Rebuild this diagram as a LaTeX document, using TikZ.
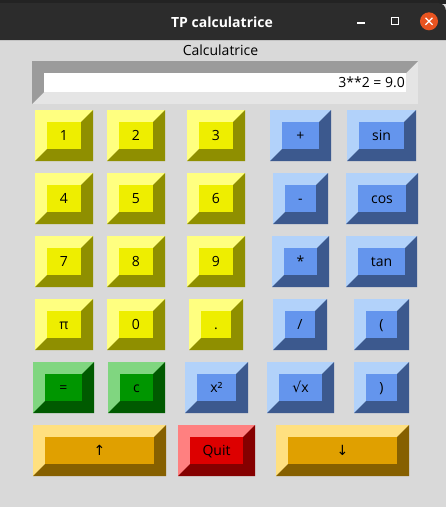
\documentclass[tikz,border=0pt]{standalone}
\usepackage{fontspec}
\setmainfont{Open Sans}
\newfontfamily\symfont{DejaVu Sans}
\usetikzlibrary{fit}
\definecolor{window}{RGB}{217,217,217}
\definecolor{titlebar}{RGB}{44,44,44}
\definecolor{closebtn}{RGB}{233,84,32}
\definecolor{entrylight}{RGB}{229,229,229}
\definecolor{entrydark}{RGB}{155,155,155}
\definecolor{num}{RGB}{238,238,0}
\definecolor{numlight}{RGB}{255,255,128}
\definecolor{numdark}{RGB}{143,143,0}
\definecolor{op}{RGB}{100,149,237}
\definecolor{oplight}{RGB}{178,210,250}
\definecolor{opdark}{RGB}{60,89,142}
\definecolor{ok}{RGB}{0,150,0}
\definecolor{oklight}{RGB}{128,214,128}
\definecolor{okdark}{RGB}{0,90,0}
\definecolor{quit}{RGB}{221,0,0}
\definecolor{quitlight}{RGB}{255,128,128}
\definecolor{quitdark}{RGB}{133,0,0}
\definecolor{nav}{RGB}{224,160,0}
\definecolor{navlight}{RGB}{255,224,128}
\definecolor{navdark}{RGB}{134,96,0}

% raised key: name, left, top, right, bottom, colour, label
\newcommand{\calckey}[7]{%
  \fill[#6light] (#2,#3) rectangle (#4,#5);
  \fill[#6dark] (#2,#5) -- (#4,#5) -- (#4,#3) -- ([shift={(-12,12)}]#4,#3)
    -- ([shift={(-12,-12)}]#4,#5) -- ([shift={(12,-12)}]#2,#5) -- cycle;
  \node[keyface, fill=#6, fit={([shift={(12,12)}]#2,#3) ([shift={(-12,-12)}]#4,#5)}] (#1-face) {};
  \node[keylabel] (#1) at (#1-face.center) {#7};
}

\begin{document}
\begin{tikzpicture}[
    x=1pt, y=-1pt,
    font=\fontsize{14}{17}\selectfont,
    keyface/.style={rectangle, inner sep=0pt, draw=none},
    keylabel/.style={inner sep=0pt, text=black, text height=10pt, text depth=0pt},
    tbicon/.style={white, line width=1.3pt}
]
    \useasboundingbox (0,0) rectangle (446,507);
    \fill[window] (0,0) rectangle (446,507);

    % Title bar
    \fill[titlebar!80!black] (0,0) rectangle (446,4);
    \fill[titlebar] (0,40) -- (0,3) [rounded corners=8pt] -- (446,3) [sharp corners] -- (446,40) -- cycle;
    \node[text=white, font=\fontsize{14}{17}\selectfont\bfseries] (title) at (222,22) {TP calculatrice};
    \draw[tbicon] (357,23) -- (365,23);
    \draw[tbicon] (391.5,17.5) rectangle (398.5,24.5);
    \fill[closebtn] (429,21.3) circle (9);
    \draw[tbicon] (425.5,17.8) -- (432.5,24.8) (425.5,24.8) -- (432.5,17.8);

    % Display
    \node (heading) at (220.5,50) {Calculatrice};
    \fill[entrylight] (32,61) rectangle (418,104);
    \fill[entrydark] (32,104) -- (32,61) -- (418,61) -- (406,73) -- (44,73) -- (44,92) -- cycle;
    \fill[white] (44,73) rectangle (406,92);
    \node[keylabel, anchor=east] (display) at (405,82.5) {3**2 = 9.0};

    % Row 1
    \calckey{k1}{35}{110}{93}{161}{num}{1}
    \calckey{k2}{107}{110}{165}{161}{num}{2}
    \calckey{k3}{187}{110}{245}{161}{num}{3}
    \calckey{kplus}{270}{110}{331}{161}{op}{+}
    \calckey{ksin}{347}{110}{416}{161}{op}{sin}
    % Row 2
    \calckey{k4}{35}{173}{93}{224}{num}{4}
    \calckey{k5}{107}{173}{165}{224}{num}{5}
    \calckey{k6}{187}{173}{245}{224}{num}{6}
    \calckey{kminus}{273}{173}{328}{224}{op}{-}
    \calckey{kcos}{346}{173}{418}{224}{op}{cos}
    % Row 3
    \calckey{k7}{35}{236}{93}{287}{num}{7}
    \calckey{k8}{107}{236}{165}{287}{num}{8}
    \calckey{k9}{187}{236}{245}{287}{num}{9}
    \calckey{ktimes}{272}{236}{329}{287}{op}{*}
    \calckey{ktan}{346}{236}{417}{287}{op}{tan}
    % Row 4
    \calckey{kpi}{35}{299}{93}{350}{num}{π}
    \calckey{k0}{107}{299}{165}{350}{num}{0}
    \calckey{kdot}{189}{299}{243}{350}{num}{.}
    \calckey{kdiv}{273}{299}{327}{350}{op}{/}
    \calckey{kopen}{354}{299}{409}{350}{op}{(}
    % Row 5
    \calckey{kequal}{33}{362}{94}{413}{ok}{=}
    \calckey{kclear}{108}{362}{165}{413}{ok}{c}
    \calckey{ksquare}{185}{362}{248}{413}{op}{x²}
    \calckey{ksqrt}{267}{362}{334}{413}{op}{{\symfont √}x}
    \calckey{kclose}{354}{362}{409}{413}{op}{)}
    % Row 6
    \calckey{kup}{33}{425}{166}{476}{nav}{{\symfont ↑}}
    \calckey{kquit}{178}{425}{255}{476}{quit}{Quit}
    \calckey{kdown}{276}{425}{409}{476}{nav}{{\symfont ↓}}
\end{tikzpicture}
\end{document}
